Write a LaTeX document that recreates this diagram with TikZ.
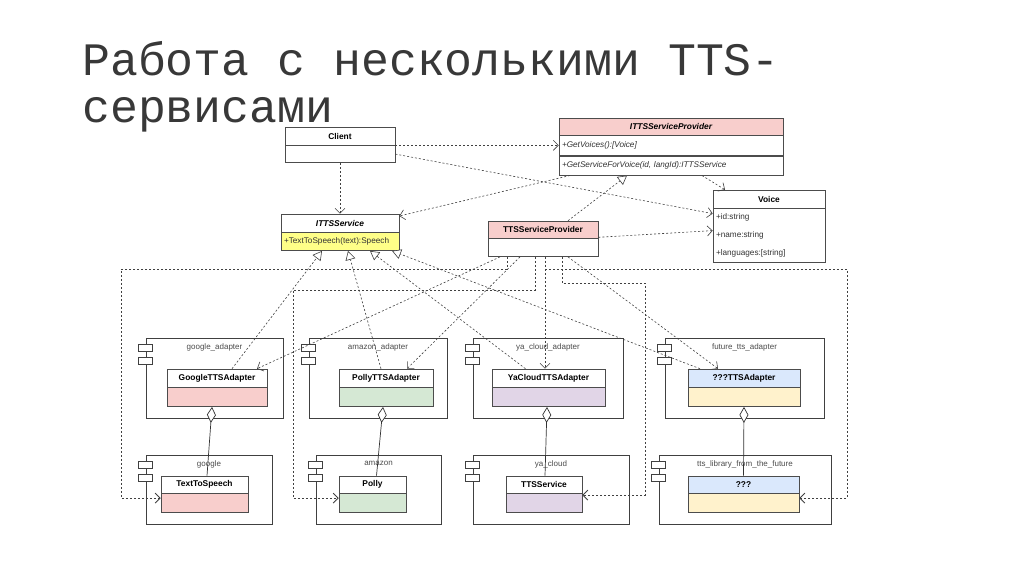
\documentclass[tikz,border=0pt]{standalone}
\usepackage{fontspec}
\setmainfont{Liberation Sans}
\newfontfamily\titlefont{Liberation Mono}
\usepackage{tikz}
\usetikzlibrary{arrows.meta, positioning, calc}
\usepackage{xcolor}
\definecolor{cPink}{HTML}{F8CECC}
\definecolor{cGreen}{HTML}{D5E8D4}
\definecolor{cPurple}{HTML}{E1D5E7}
\definecolor{cBlue}{HTML}{DAE8FC}
\definecolor{cCream}{HTML}{FFF2CC}
\definecolor{cLemon}{HTML}{FFFF88}
\tikzset{
  title/.style={font=\titlefont\fontsize{46.5}{50}\selectfont, text=black!78,
    inner sep=0pt},
  cls/.style={rectangle, draw=black!70, fill=white, line width=0.6pt,
    inner sep=0pt, font=\fontsize{8.4}{9}\selectfont\bfseries},
  clsI/.style={cls, font=\fontsize{8.4}{9}\selectfont\bfseries\itshape},
  clsb/.style={rectangle, draw=black!70, fill=white, line width=0.6pt,
    inner sep=0pt},
  row/.style={clsb, inner xsep=3pt, align=left,
    font=\fontsize{8.2}{9}\selectfont, text=black!80},
  comp/.style={rectangle, draw=black!75, fill=white, line width=0.7pt},
  lbl/.style={font=\fontsize{8}{9}\selectfont, text=black!70, inner sep=0pt},
  dep/.style={-{Straight Barb[length=5pt, width=10pt]},
    dash pattern=on 2pt off 2pt, line width=0.6pt, draw=black!75},
  bus/.style={dep, line width=0.8pt},
  real/.style={-{Triangle[open, length=9pt, width=10pt, fill=white]},
    dash pattern=on 2pt off 2pt, line width=0.6pt, draw=black!75},
  agg/.style={-{Diamond[open, length=16pt, width=9pt, fill=white]},
    line width=0.7pt, draw=black!80},
}
\begin{document}
\begin{tikzpicture}[x=1pt, y=-1pt]
  \useasboundingbox (0,0) rectangle (1024,574);
  \fill[white] (0,0) rectangle (1024,574);

  % Title
  \node[title, anchor=base west] (t1) at (82,75) {Работа с несколькими TTS-};
  \node[title, anchor=base west] (t2) at (82,122) {сервисами};

  % Components (adapters)
  \node[comp, minimum width=137, minimum height=80] (ga) at (214.5,378) {};
  \node[comp, minimum width=138, minimum height=80] (aa) at (378,378) {};
  \node[comp, minimum width=150, minimum height=80] (ya) at (548,378) {};
  \node[comp, minimum width=159, minimum height=80] (fa) at (744.5,378) {};
  % Components (libraries)
  \node[comp, minimum width=126, minimum height=69] (gl) at (209,489.5) {};
  \node[comp, minimum width=125, minimum height=69] (al) at (378.5,489.5) {};
  \node[comp, minimum width=156, minimum height=69] (yl) at (551,489.5) {};
  \node[comp, minimum width=172, minimum height=69] (fl) at (745,489.5) {};

  \foreach \c in {ga,aa,ya,fa,gl,al,yl,fl}{
    \draw[black!75, fill=white, line width=0.6pt]
      ($(\c.north west)+(-7,7)$) rectangle ++(14,7);
    \draw[black!75, fill=white, line width=0.6pt]
      ($(\c.north west)+(-7,20)$) rectangle ++(14,7);
  }

  \node[lbl, below=6pt of ga.north] (gaL) {google\_adapter};
  \node[lbl, below=6pt of aa.north] (aaL) {amazon\_adapter};
  \node[lbl, below=6pt of ya.north] (yaL) {ya\_cloud\_adapter};
  \node[lbl, below=6pt of fa.north] (faL) {future\_tts\_adapter};
  \node[lbl, below=6pt of gl.north] (glL) {google};
  \node[lbl, below=6pt of al.north] (alL) {amazon};
  \node[lbl, below=6pt of yl.north] (ylL) {ya\_cloud};
  \node[lbl, below=6pt of fl.north] (flL) {tts\_library\_from\_the\_future};

  % Client
  \node[cls, minimum width=110, minimum height=18] (clh) at (340,136) {Client};
  \node[clsb, minimum width=110, minimum height=17, below=0pt of clh] (clb) {};

  % ITTSServiceProvider
  \node[clsI, fill=cPink, minimum width=224, minimum height=17] (isp)
       at (671,126.5) {ITTSServiceProvider};
  \node[row, text width=218, minimum height=20, below=0pt of isp] (isp1)
       {\itshape +GetVoices():[Voice]};
  \node[row, text width=218, minimum height=19, below=0pt of isp1] (isp2)
       {\itshape +GetServiceForVoice(id, langId):ITTSService};

  % Voice
  \node[cls, minimum width=112, minimum height=18] (vh) at (769,199) {Voice};
  \node[row, text width=106, minimum height=54, below=0pt of vh,
        font=\fontsize{8.2}{18}\selectfont] (vb)
       {+id:string\\+name:string\\+languages:[string]};

  % ITTSService
  \node[clsI, minimum width=118, minimum height=18] (itsh) at (340,223) {ITTSService};
  \node[row, fill=cLemon, text width=112, minimum height=18, below=0pt of itsh] (itsb)
       {+TextToSpeech(text):Speech};

  % TTSServiceProvider
  \node[cls, fill=cPink, minimum width=110, minimum height=17] (tsph)
       at (543,229.5) {TTSServiceProvider};
  \node[clsb, minimum width=110, minimum height=18, below=0pt of tsph] (tspb) {};

  % Adapter classes
  \node[cls, minimum width=100, minimum height=18] (gta) at (217,378) {GoogleTTSAdapter};
  \node[clsb, fill=cPink, minimum width=100, minimum height=19, below=0pt of gta] (gtab) {};
  \node[cls, minimum width=94, minimum height=18] (pta) at (386,378) {PollyTTSAdapter};
  \node[clsb, fill=cGreen, minimum width=94, minimum height=19, below=0pt of pta] (ptab) {};
  \node[cls, minimum width=113, minimum height=18] (yca) at (548.5,378) {YaCloudTTSAdapter};
  \node[clsb, fill=cPurple, minimum width=113, minimum height=19, below=0pt of yca] (ycab) {};
  \node[cls, fill=cBlue, minimum width=112, minimum height=18] (qta) at (744,378) {???TTSAdapter};
  \node[clsb, fill=cCream, minimum width=112, minimum height=19, below=0pt of qta] (qtab) {};

  % Library classes
  \node[cls, minimum width=87, minimum height=17] (tts) at (204.5,484.5) {TextToSpeech};
  \node[clsb, fill=cPink, minimum width=87, minimum height=19, below=0pt of tts] (ttsb) {};
  \node[cls, minimum width=67, minimum height=17] (pol) at (372.5,484.5) {Polly};
  \node[clsb, fill=cGreen, minimum width=67, minimum height=19, below=0pt of pol] (polb) {};
  \node[cls, minimum width=76, minimum height=17] (ttsv) at (544,484.5) {TTSService};
  \node[clsb, fill=cPurple, minimum width=76, minimum height=19, below=0pt of ttsv] (ttsvb) {};
  \node[cls, fill=cBlue, minimum width=111, minimum height=17] (qq) at (743.5,484.5) {???};
  \node[clsb, fill=cCream, minimum width=111, minimum height=19, below=0pt of qq] (qqb) {};

  % Routes from provider to libraries
  \draw[bus] ([xshift=-36pt]tspb.south) |- (121,269) |- ([yshift=5pt]ttsb.west);
  \draw[bus] ([xshift=-8pt]tspb.south) |- (293,290) |- ([yshift=5pt]polb.west);
  \draw[bus] ([xshift=19pt]tspb.south) |- (645,283) |- ([yshift=8pt]ttsvb.east);
  \draw[bus] ([xshift=2pt]tspb.south) |- (847,269) |- ([yshift=5pt]qqb.east);

  % Provider uses adapters
  \draw[dep] ([xshift=-43pt]tspb.south) -- ([xshift=40pt]gta.north);
  \draw[dep] ([xshift=-23pt]tspb.south) -- ([xshift=21pt]pta.north);
  \draw[dep] ([xshift=2pt]tspb.south) -- ([xshift=2pt]tspb.south |- yca.north);
  \draw[dep] ([xshift=25pt]tspb.south) -- ([xshift=-26pt]qta.north);

  % Adapters implement ITTSService
  \draw[real] ([xshift=15pt]gta.north) -- ([xshift=-18pt]itsb.south);
  \draw[real] ([xshift=-5pt]pta.north) -- ([xshift=8pt]itsb.south);
  \draw[real] ([xshift=-23pt]yca.north) -- ([xshift=30pt]itsb.south);
  \draw[real] ([xshift=-44pt]qta.north) -- ([xshift=52pt]itsb.south);

  % Top relations
  \draw[dep] (clh.south east) -- (clh.south east -| isp1.west);
  \draw[dep] (clb.east) -- ([yshift=22pt]vb.west);
  \draw[dep] (clb.south) -- (itsh.north);
  \draw[dep] ([xshift=-101pt]isp2.south) -- ([yshift=7pt]itsh.east);
  \draw[dep] ([xshift=31pt]isp2.south) -- ([xshift=-44pt]vh.north);
  \draw[real] ([xshift=25pt]tsph.north) -- ([xshift=-44pt]isp2.south);
  \draw[dep] ([yshift=1pt]tsph.south east) -- ([yshift=5pt]vb.west);

  % Aggregation
  \draw[agg] ([xshift=2.5pt]tts.north) -- ([xshift=-5pt]gtab.south);
  \draw[agg] ([xshift=4pt]pol.north) -- ([xshift=-3pt]ptab.south);
  \draw[agg] ([xshift=1pt]ttsv.north) -- ([xshift=-1.5pt]ycab.south);
  \draw[agg] (qq.north) -- (qtab.south);
\end{tikzpicture}
\end{document}
